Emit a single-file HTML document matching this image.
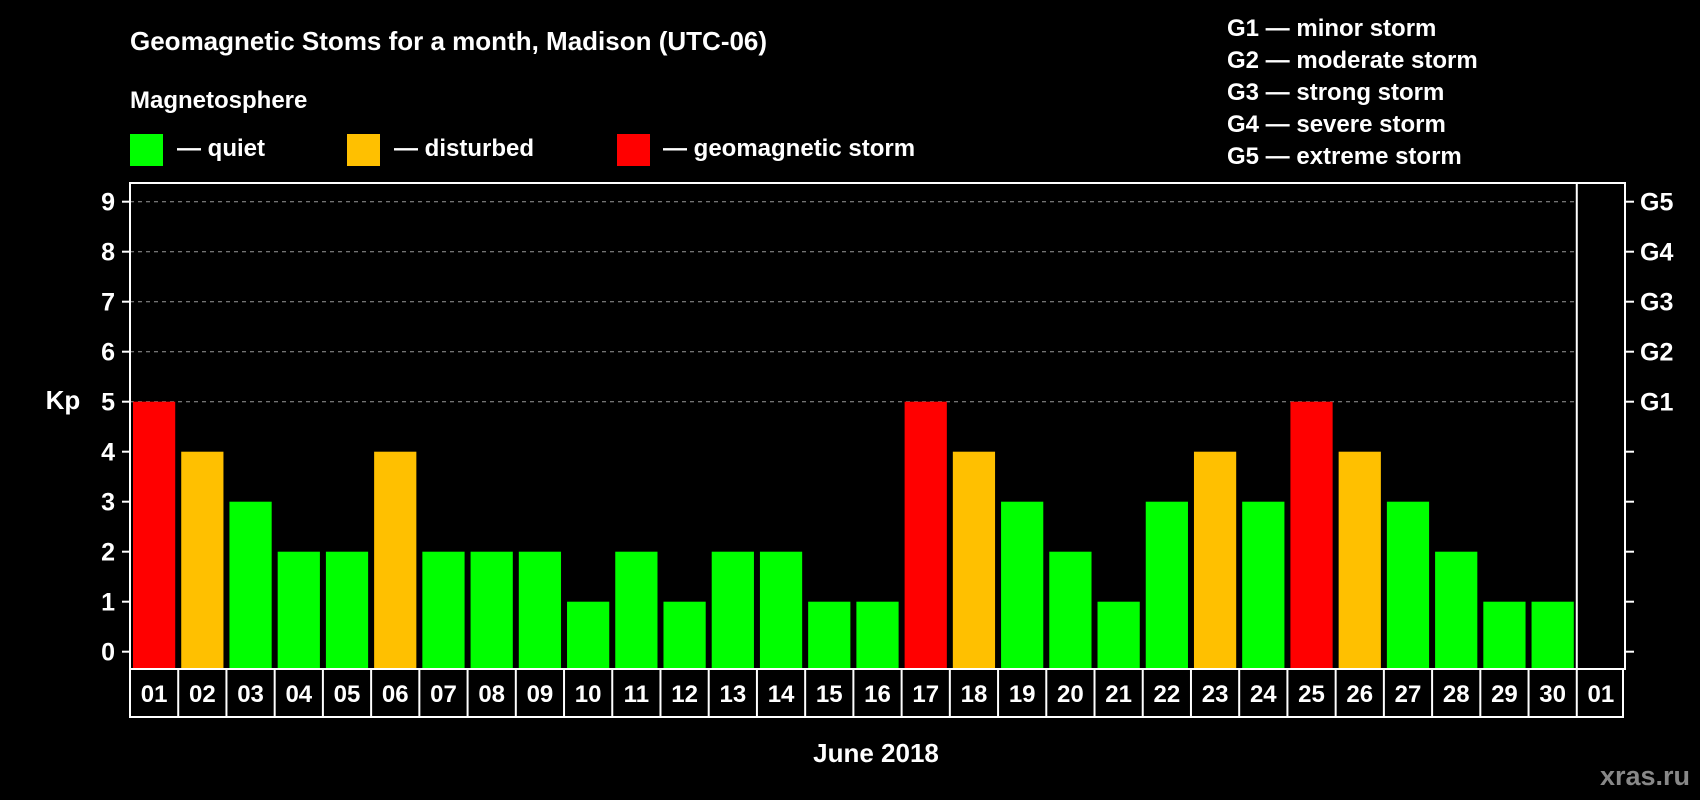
<!DOCTYPE html>
<html><head><meta charset="utf-8"><style>
html,body{margin:0;padding:0;background:#000;}
svg{display:block;font-family:"Liberation Sans",sans-serif;font-weight:bold;}
</style></head><body>
<svg id="chart" width="1700" height="800" viewBox="0 0 1700 800">
<rect x="0" y="0" width="1700" height="800" fill="#000"/>
<text x="130" y="50" fill="#fff" font-size="26">Geomagnetic Stoms for a month, Madison (UTC-06)</text>
<text x="130" y="108" fill="#fff" font-size="24">Magnetosphere</text>
<g><rect x="130" y="134" width="33" height="32" fill="#00ff00"/><text x="177" y="156" fill="#fff" font-size="24">— quiet</text></g>
<g><rect x="347" y="134" width="33" height="32" fill="#ffc000"/><text x="394" y="156" fill="#fff" font-size="24">— disturbed</text></g>
<g><rect x="617" y="134" width="33" height="32" fill="#ff0000"/><text x="663" y="156" fill="#fff" font-size="24">— geomagnetic storm</text></g>
<g fill="#fff" font-size="24">
<text x="1227" y="36">G1 — minor storm</text>
<text x="1227" y="68">G2 — moderate storm</text>
<text x="1227" y="100">G3 — strong storm</text>
<text x="1227" y="132">G4 — severe storm</text>
<text x="1227" y="164">G5 — extreme storm</text>
</g>
<text x="63" y="409" fill="#fff" font-size="26" text-anchor="middle">Kp</text>
<text x="876" y="762" fill="#fff" font-size="26" text-anchor="middle">June 2018</text>
<text x="1690" y="785" fill="#888" font-size="27" text-anchor="end">xras.ru</text>
<g id="marks"></g>
</svg>
<script>
const days = ["01","02","03","04","05","06","07","08","09","10","11","12","13","14","15","16","17","18","19","20","21","22","23","24","25","26","27","28","29","30","01"];
const kpValues = [5,4,3,2,2,4,2,2,2,1,2,1,2,2,1,1,5,4,3,2,1,3,4,3,5,4,3,2,1,1];
const yTicks = [0,1,2,3,4,5,6,7,8,9];
const gLabels = ["G1","G2","G3","G4","G5"];
const gLevels = [5,6,7,8,9];

const NS = "http://www.w3.org/2000/svg";
const g = document.getElementById('marks');
const L = 130, R = 1625, T = 183, B = 669, DB = 717;
const cellW = (R - L) / days.length;
const y = v => 651.7 - v * 50;
const x = i => L + i * cellW;
function mk(tag, attrs, parent) {
  const e = document.createElementNS(NS, tag);
  for (const k in attrs) e.setAttribute(k, attrs[k]);
  (parent || g).appendChild(e);
  return e;
}
// grid
gLevels.forEach((v, i) => {
  const ln = mk('line', {x1: L, x2: x(days.length - 1), y1: y(v), y2: y(v), stroke: '#999', 'stroke-width': 1, 'stroke-dasharray': '4,4'});
  
  
  const t = mk('text', {x: 1640, y: y(v) + 9, fill: '#fff', 'font-size': 25});
  t.textContent = gLabels[i];
  
  
});
// bars
kpValues.forEach((v, i) => {
  const col = v >= 5 ? '#ff0000' : (v >= 4 ? '#ffc000' : '#00ff00');
  const r = mk('rect', {x: x(i) + 3, y: y(v), width: cellW - 6, height: B - 1 - y(v), fill: col});
  
  
});
// y ticks
yTicks.forEach(v => {
  const tl = mk('line', {x1: 122, x2: L, y1: y(v), y2: y(v), stroke: '#fff', 'stroke-width': 2});
  
  
  const tr = mk('line', {x1: R, x2: R + 9, y1: y(v), y2: y(v), stroke: '#fff', 'stroke-width': 2});
  
  
  const t = mk('text', {x: 115, y: y(v) + 9, fill: '#fff', 'font-size': 25, 'text-anchor': 'end'});
  t.textContent = v;
  
  
});
// frame
const fr = mk('rect', {x: L, y: T, width: R - L, height: B - T, fill: 'none', stroke: '#fff', 'stroke-width': 2});


const sep = mk('line', {x1: x(days.length - 1), x2: x(days.length - 1), y1: T, y2: B, stroke: '#fff', 'stroke-width': 2});


// date row
const dr = mk('rect', {x: L, y: B, width: R - L - 2, height: DB - B, fill: 'none', stroke: '#fff', 'stroke-width': 2});


days.forEach((d, i) => {
  if (i > 0) {
    const dl = mk('line', {x1: x(i), x2: x(i), y1: B, y2: DB, stroke: '#fff', 'stroke-width': 2});
    
    
  }
  const t = mk('text', {x: x(i) + cellW / 2, y: B + 33, fill: '#fff', 'font-size': 24, 'text-anchor': 'middle'});
  t.textContent = d;
  
  
});
</script>
</body></html>
